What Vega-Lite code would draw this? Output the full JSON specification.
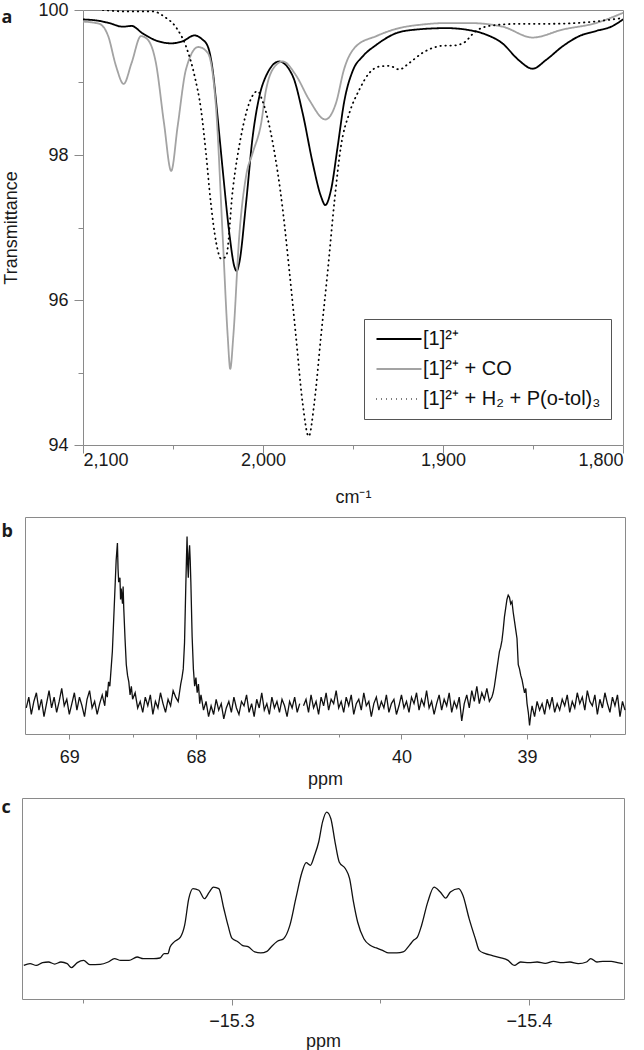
{
"$schema": "https://vega.github.io/schema/vega-lite/v6.json",
"padding": {"left": 0, "top": 0, "right": 0, "bottom": 0},
"background": "white",
"config": {
 "view": {"stroke": "#8a8a8a", "strokeWidth": 1},
 "axis": {"labelFont": "Liberation Sans", "titleFont": "Liberation Sans", "labelFontSize": 18, "titleFontSize": 18, "labelColor": "#1a1a1a", "titleColor": "#1a1a1a", "titleFontWeight": "normal", "domain": false, "tickColor": "#8a8a8a", "grid": false},
 "legend": {"orient": "none", "legendX": 342, "legendY": 309, "strokeColor": "#555", "fillColor": "#ffffff", "padding": 10, "symbolType": "M-3,0H3", "symbolSize": 225, "symbolOffset": 15, "symbolStrokeWidth": 1.8, "labelFont": "Liberation Sans", "labelFontSize": 20, "labelColor": "#111", "labelOffset": 14, "labelLimit": 400, "rowPadding": 10}
},
"datasets": {
 "ir": [
  {"s":"A","w":2100,"t":99.87},{"s":"A","w":2091,"t":99.85},{"s":"A","w":2085.5,"t":99.82},{"s":"A","w":2078,"t":99.77},{"s":"A","w":2073,"t":99.78},{"s":"A","w":2067,"t":99.68},{"s":"A","w":2059.5,"t":99.58},{"s":"A","w":2051,"t":99.54},{"s":"A","w":2044.6,"t":99.57},{"s":"A","w":2038,"t":99.65},{"s":"A","w":2034,"t":99.6},{"s":"A","w":2030.7,"t":99.5},{"s":"A","w":2028,"t":99.18},{"s":"A","w":2026,"t":98.72},{"s":"A","w":2022.4,"t":97.8},{"s":"A","w":2018.7,"t":96.92},{"s":"A","w":2016,"t":96.47},{"s":"A","w":2014.6,"t":96.4},{"s":"A","w":2013.2,"t":96.51},{"s":"A","w":2009.4,"t":97.34},{"s":"A","w":2005.7,"t":98.26},{"s":"A","w":2002,"t":98.81},{"s":"A","w":1998.3,"t":99.09},{"s":"A","w":1991,"t":99.29},{"s":"A","w":1983.5,"t":99.09},{"s":"A","w":1978,"t":98.58},{"s":"A","w":1972.4,"t":97.89},{"s":"A","w":1967.8,"t":97.43},{"s":"A","w":1965.4,"t":97.31},{"s":"A","w":1962.2,"t":97.52},{"s":"A","w":1958.5,"t":98.12},{"s":"A","w":1955,"t":98.72},{"s":"A","w":1950,"t":99.17},{"s":"A","w":1944.6,"t":99.36},{"s":"A","w":1937,"t":99.52},{"s":"A","w":1926,"t":99.68},{"s":"A","w":1915,"t":99.73},{"s":"A","w":1898,"t":99.75},{"s":"A","w":1885,"t":99.72},{"s":"A","w":1876,"t":99.66},{"s":"A","w":1867,"t":99.54},{"s":"A","w":1858,"t":99.31},{"s":"A","w":1850.2,"t":99.19},{"s":"A","w":1842.8,"t":99.31},{"s":"A","w":1833.5,"t":99.5},{"s":"A","w":1824.3,"t":99.64},{"s":"A","w":1815,"t":99.71},{"s":"A","w":1805.7,"t":99.78},{"s":"A","w":1800,"t":99.87},
  {"s":"B","w":2100,"t":99.84},{"s":"B","w":2091,"t":99.81},{"s":"B","w":2086,"t":99.64},{"s":"B","w":2081.7,"t":99.23},{"s":"B","w":2077.4,"t":98.98},{"s":"B","w":2073,"t":99.27},{"s":"B","w":2067.8,"t":99.64},{"s":"B","w":2064,"t":99.59},{"s":"B","w":2059.5,"t":99.27},{"s":"B","w":2055,"t":98.44},{"s":"B","w":2051,"t":97.78},{"s":"B","w":2047.4,"t":98.4},{"s":"B","w":2042.8,"t":99.18},{"s":"B","w":2036,"t":99.49},{"s":"B","w":2030.7,"t":99.41},{"s":"B","w":2026,"t":98.62},{"s":"B","w":2022.4,"t":96.88},{"s":"B","w":2019.6,"t":95.5},{"s":"B","w":2018.2,"t":95.05},{"s":"B","w":2016.5,"t":95.5},{"s":"B","w":2013.2,"t":96.88},{"s":"B","w":2009.4,"t":97.71},{"s":"B","w":2005.7,"t":98.03},{"s":"B","w":2001,"t":98.44},{"s":"B","w":1998.3,"t":98.9},{"s":"B","w":1992.8,"t":99.24},{"s":"B","w":1989,"t":99.29},{"s":"B","w":1981.7,"t":99.1},{"s":"B","w":1974.3,"t":98.76},{"s":"B","w":1965.4,"t":98.49},{"s":"B","w":1959.4,"t":98.72},{"s":"B","w":1955,"t":99.18},{"s":"B","w":1948.3,"t":99.5},{"s":"B","w":1937,"t":99.64},{"s":"B","w":1926,"t":99.74},{"s":"B","w":1911.3,"t":99.8},{"s":"B","w":1898.3,"t":99.82},{"s":"B","w":1885.4,"t":99.82},{"s":"B","w":1866.9,"t":99.77},{"s":"B","w":1850.2,"t":99.62},{"s":"B","w":1833.5,"t":99.73},{"s":"B","w":1815,"t":99.82},{"s":"B","w":1800,"t":99.96},
  {"s":"C","w":2089,"t":100.0},{"s":"C","w":2076,"t":99.98},{"s":"C","w":2061,"t":99.98},{"s":"C","w":2055,"t":99.91},{"s":"C","w":2048,"t":99.75},{"s":"C","w":2042.8,"t":99.5},{"s":"C","w":2038,"t":99.09},{"s":"C","w":2034.4,"t":98.62},{"s":"C","w":2031.7,"t":98.03},{"s":"C","w":2029,"t":97.34},{"s":"C","w":2026,"t":96.79},{"s":"C","w":2023.3,"t":96.57},{"s":"C","w":2020.5,"t":96.6},{"s":"C","w":2016.8,"t":97.52},{"s":"C","w":2012.2,"t":98.26},{"s":"C","w":2007.6,"t":98.72},{"s":"C","w":2003,"t":98.88},{"s":"C","w":2000.2,"t":98.74},{"s":"C","w":1994.6,"t":98.17},{"s":"C","w":1989,"t":97.24},{"s":"C","w":1985.4,"t":96.41},{"s":"C","w":1981.7,"t":95.5},{"s":"C","w":1978,"t":94.58},{"s":"C","w":1974.6,"t":94.12},{"s":"C","w":1971.5,"t":94.58},{"s":"C","w":1967.8,"t":95.5},{"s":"C","w":1964,"t":96.41},{"s":"C","w":1960.4,"t":97.34},{"s":"C","w":1956.7,"t":98.12},{"s":"C","w":1952,"t":98.58},{"s":"C","w":1946.5,"t":98.9},{"s":"C","w":1941,"t":99.13},{"s":"C","w":1935.4,"t":99.22},{"s":"C","w":1929.8,"t":99.23},{"s":"C","w":1924.3,"t":99.18},{"s":"C","w":1918.7,"t":99.27},{"s":"C","w":1911.3,"t":99.41},{"s":"C","w":1898.3,"t":99.51},{"s":"C","w":1894.6,"t":99.51},{"s":"C","w":1889,"t":99.54},{"s":"C","w":1881.7,"t":99.71},{"s":"C","w":1874.3,"t":99.78},{"s":"C","w":1857.6,"t":99.81},{"s":"C","w":1839,"t":99.81},{"s":"C","w":1820.5,"t":99.83},{"s":"C","w":1800,"t":99.89}
 ],
 "p31": [
  {"g":"L","p":69.34,"v":12},{"g":"L","p":69.32,"v":17},{"g":"L","p":69.30,"v":9},{"g":"L","p":69.28,"v":15},{"g":"L","p":69.26,"v":19},{"g":"L","p":69.24,"v":11},{"g":"L","p":69.22,"v":16},{"g":"L","p":69.20,"v":8},{"g":"L","p":69.18,"v":14},{"g":"L","p":69.16,"v":20},{"g":"L","p":69.14,"v":12},{"g":"L","p":69.12,"v":17},{"g":"L","p":69.10,"v":10},{"g":"L","p":69.08,"v":15},{"g":"L","p":69.06,"v":21},{"g":"L","p":69.04,"v":13},{"g":"L","p":69.02,"v":16},{"g":"L","p":69.00,"v":9},{"g":"L","p":68.98,"v":14},{"g":"L","p":68.96,"v":19},{"g":"L","p":68.94,"v":11},{"g":"L","p":68.92,"v":17},{"g":"L","p":68.90,"v":13},{"g":"L","p":68.88,"v":8},{"g":"L","p":68.86,"v":16},{"g":"L","p":68.84,"v":20},{"g":"L","p":68.82,"v":12},{"g":"L","p":68.80,"v":15},{"g":"L","p":68.78,"v":9},{"g":"L","p":68.76,"v":14},{"g":"L","p":68.74,"v":18},{"g":"L","p":68.72,"v":13},{"g":"L","p":68.71,"v":20},{"g":"L","p":68.70,"v":17},{"g":"L","p":68.69,"v":24},{"g":"L","p":68.68,"v":22},{"g":"L","p":68.67,"v":30},{"g":"L","p":68.66,"v":38},{"g":"L","p":68.65,"v":52},{"g":"L","p":68.64,"v":66},{"g":"L","p":68.63,"v":80},{"g":"L","p":68.62,"v":88},{"g":"L","p":68.615,"v":76},{"g":"L","p":68.61,"v":70},{"g":"L","p":68.60,"v":72},{"g":"L","p":68.595,"v":62},{"g":"L","p":68.59,"v":67},{"g":"L","p":68.58,"v":60},{"g":"L","p":68.575,"v":68},{"g":"L","p":68.57,"v":58},{"g":"L","p":68.56,"v":44},{"g":"L","p":68.55,"v":32},{"g":"L","p":68.54,"v":27},{"g":"L","p":68.53,"v":24},{"g":"L","p":68.52,"v":18},{"g":"L","p":68.51,"v":22},{"g":"L","p":68.50,"v":16},{"g":"L","p":68.48,"v":19},{"g":"L","p":68.46,"v":12},{"g":"L","p":68.44,"v":15},{"g":"L","p":68.42,"v":10},{"g":"L","p":68.40,"v":17},{"g":"L","p":68.38,"v":13},{"g":"L","p":68.36,"v":18},{"g":"L","p":68.34,"v":9},{"g":"L","p":68.32,"v":15},{"g":"L","p":68.30,"v":12},{"g":"L","p":68.28,"v":19},{"g":"L","p":68.26,"v":14},{"g":"L","p":68.24,"v":10},{"g":"L","p":68.22,"v":16},{"g":"L","p":68.20,"v":13},{"g":"L","p":68.18,"v":20},{"g":"L","p":68.16,"v":17},{"g":"L","p":68.14,"v":15},{"g":"L","p":68.13,"v":19},{"g":"L","p":68.12,"v":23},{"g":"L","p":68.11,"v":26},{"g":"L","p":68.10,"v":30},{"g":"L","p":68.09,"v":42},{"g":"L","p":68.08,"v":68},{"g":"L","p":68.075,"v":80},{"g":"L","p":68.07,"v":91},{"g":"L","p":68.065,"v":78},{"g":"L","p":68.06,"v":72},{"g":"L","p":68.055,"v":83},{"g":"L","p":68.05,"v":87},{"g":"L","p":68.045,"v":80},{"g":"L","p":68.04,"v":70},{"g":"L","p":68.03,"v":45},{"g":"L","p":68.02,"v":30},{"g":"L","p":68.01,"v":22},{"g":"L","p":68.00,"v":26},{"g":"L","p":67.99,"v":19},{"g":"L","p":67.98,"v":23},{"g":"L","p":67.97,"v":14},{"g":"L","p":67.96,"v":18},{"g":"L","p":67.94,"v":11},{"g":"L","p":67.92,"v":15},{"g":"L","p":67.90,"v":8},{"g":"L","p":67.88,"v":13},{"g":"L","p":67.86,"v":9},{"g":"L","p":67.84,"v":16},{"g":"L","p":67.82,"v":11},{"g":"L","p":67.80,"v":14},{"g":"L","p":67.78,"v":7},{"g":"L","p":67.76,"v":12},{"g":"L","p":67.74,"v":15},{"g":"L","p":67.72,"v":10},{"g":"L","p":67.70,"v":17},{"g":"L","p":67.68,"v":12},{"g":"L","p":67.66,"v":9},{"g":"L","p":67.64,"v":15},{"g":"L","p":67.62,"v":13},{"g":"L","p":67.60,"v":18},{"g":"L","p":67.58,"v":10},{"g":"L","p":67.56,"v":14},{"g":"L","p":67.54,"v":8},{"g":"L","p":67.52,"v":16},{"g":"L","p":67.50,"v":12},{"g":"L","p":67.48,"v":19},{"g":"L","p":67.46,"v":11},{"g":"L","p":67.44,"v":14},{"g":"L","p":67.42,"v":9},{"g":"L","p":67.40,"v":17},{"g":"L","p":67.38,"v":12},{"g":"L","p":67.36,"v":15},{"g":"L","p":67.34,"v":10},{"g":"L","p":67.32,"v":16},{"g":"L","p":67.30,"v":13},{"g":"L","p":67.28,"v":8},{"g":"L","p":67.26,"v":15},{"g":"L","p":67.24,"v":12},{"g":"L","p":67.22,"v":17},{"g":"L","p":67.20,"v":10},{"g":"L","p":67.18,"v":14},
  {"g":"R","p":40.78,"v":13},{"g":"R","p":40.76,"v":16},{"g":"R","p":40.74,"v":10},{"g":"R","p":40.72,"v":18},{"g":"R","p":40.70,"v":12},{"g":"R","p":40.68,"v":15},{"g":"R","p":40.66,"v":9},{"g":"R","p":40.64,"v":17},{"g":"R","p":40.62,"v":13},{"g":"R","p":40.60,"v":19},{"g":"R","p":40.58,"v":11},{"g":"R","p":40.56,"v":16},{"g":"R","p":40.54,"v":14},{"g":"R","p":40.52,"v":20},{"g":"R","p":40.50,"v":12},{"g":"R","p":40.48,"v":15},{"g":"R","p":40.46,"v":10},{"g":"R","p":40.44,"v":17},{"g":"R","p":40.42,"v":13},{"g":"R","p":40.40,"v":18},{"g":"R","p":40.38,"v":9},{"g":"R","p":40.36,"v":14},{"g":"R","p":40.34,"v":16},{"g":"R","p":40.32,"v":11},{"g":"R","p":40.30,"v":19},{"g":"R","p":40.28,"v":13},{"g":"R","p":40.26,"v":15},{"g":"R","p":40.24,"v":8},{"g":"R","p":40.22,"v":14},{"g":"R","p":40.20,"v":17},{"g":"R","p":40.18,"v":11},{"g":"R","p":40.16,"v":15},{"g":"R","p":40.14,"v":12},{"g":"R","p":40.12,"v":18},{"g":"R","p":40.10,"v":10},{"g":"R","p":40.08,"v":14},{"g":"R","p":40.06,"v":16},{"g":"R","p":40.04,"v":9},{"g":"R","p":40.02,"v":13},{"g":"R","p":40.00,"v":18},{"g":"R","p":39.98,"v":12},{"g":"R","p":39.96,"v":15},{"g":"R","p":39.94,"v":10},{"g":"R","p":39.92,"v":17},{"g":"R","p":39.90,"v":14},{"g":"R","p":39.88,"v":19},{"g":"R","p":39.86,"v":11},{"g":"R","p":39.84,"v":16},{"g":"R","p":39.82,"v":13},{"g":"R","p":39.80,"v":20},{"g":"R","p":39.78,"v":12},{"g":"R","p":39.76,"v":15},{"g":"R","p":39.74,"v":9},{"g":"R","p":39.72,"v":14},{"g":"R","p":39.70,"v":18},{"g":"R","p":39.68,"v":11},{"g":"R","p":39.66,"v":16},{"g":"R","p":39.64,"v":13},{"g":"R","p":39.62,"v":19},{"g":"R","p":39.60,"v":10},{"g":"R","p":39.58,"v":15},{"g":"R","p":39.56,"v":12},{"g":"R","p":39.54,"v":17},{"g":"R","p":39.52,"v":6},{"g":"R","p":39.50,"v":14},{"g":"R","p":39.48,"v":18},{"g":"R","p":39.46,"v":12},{"g":"R","p":39.44,"v":20},{"g":"R","p":39.42,"v":15},{"g":"R","p":39.40,"v":22},{"g":"R","p":39.38,"v":14},{"g":"R","p":39.36,"v":19},{"g":"R","p":39.34,"v":16},{"g":"R","p":39.32,"v":21},{"g":"R","p":39.30,"v":15},{"g":"R","p":39.28,"v":17},{"g":"R","p":39.27,"v":19},{"g":"R","p":39.26,"v":22},{"g":"R","p":39.25,"v":26},{"g":"R","p":39.24,"v":30},{"g":"R","p":39.23,"v":34},{"g":"R","p":39.22,"v":38},{"g":"R","p":39.21,"v":40},{"g":"R","p":39.20,"v":43},{"g":"R","p":39.19,"v":48},{"g":"R","p":39.18,"v":54},{"g":"R","p":39.17,"v":58},{"g":"R","p":39.16,"v":62},{"g":"R","p":39.15,"v":64},{"g":"R","p":39.14,"v":63},{"g":"R","p":39.13,"v":60},{"g":"R","p":39.12,"v":61},{"g":"R","p":39.11,"v":56},{"g":"R","p":39.10,"v":52},{"g":"R","p":39.09,"v":48},{"g":"R","p":39.08,"v":44},{"g":"R","p":39.07,"v":32},{"g":"R","p":39.06,"v":30},{"g":"R","p":39.05,"v":27},{"g":"R","p":39.04,"v":25},{"g":"R","p":39.03,"v":22},{"g":"R","p":39.02,"v":19},{"g":"R","p":39.01,"v":21},{"g":"R","p":39.00,"v":14},{"g":"R","p":38.99,"v":10},{"g":"R","p":38.98,"v":4},{"g":"R","p":38.97,"v":9},{"g":"R","p":38.96,"v":13},{"g":"R","p":38.94,"v":8},{"g":"R","p":38.92,"v":15},{"g":"R","p":38.90,"v":11},{"g":"R","p":38.88,"v":14},{"g":"R","p":38.86,"v":9},{"g":"R","p":38.84,"v":16},{"g":"R","p":38.82,"v":12},{"g":"R","p":38.80,"v":17},{"g":"R","p":38.78,"v":10},{"g":"R","p":38.76,"v":14},{"g":"R","p":38.74,"v":11},{"g":"R","p":38.72,"v":16},{"g":"R","p":38.70,"v":13},{"g":"R","p":38.68,"v":18},{"g":"R","p":38.66,"v":10},{"g":"R","p":38.64,"v":15},{"g":"R","p":38.62,"v":12},{"g":"R","p":38.60,"v":19},{"g":"R","p":38.58,"v":14},{"g":"R","p":38.56,"v":17},{"g":"R","p":38.54,"v":11},{"g":"R","p":38.52,"v":20},{"g":"R","p":38.50,"v":15},{"g":"R","p":38.48,"v":13},{"g":"R","p":38.46,"v":18},{"g":"R","p":38.44,"v":9},{"g":"R","p":38.42,"v":16},{"g":"R","p":38.40,"v":12},{"g":"R","p":38.38,"v":19},{"g":"R","p":38.36,"v":14},{"g":"R","p":38.34,"v":10},{"g":"R","p":38.32,"v":17},{"g":"R","p":38.30,"v":13},{"g":"R","p":38.28,"v":18},{"g":"R","p":38.26,"v":8},{"g":"R","p":38.24,"v":15},{"g":"R","p":38.22,"v":11}
 ],
 "h1": [
  {"p":-15.2301,"v":16.7},{"p":-15.2322,"v":17.6},{"p":-15.2343,"v":16.7},{"p":-15.2364,"v":18.1},{"p":-15.2384,"v":18.4},{"p":-15.2405,"v":17.4},{"p":-15.2426,"v":18.4},{"p":-15.2447,"v":17.6},{"p":-15.2461,"v":15.6},{"p":-15.2481,"v":18.1},{"p":-15.2502,"v":19.2},{"p":-15.2523,"v":17.1},{"p":-15.2558,"v":17.2},{"p":-15.2585,"v":18.4},{"p":-15.2606,"v":20.1},{"p":-15.2627,"v":19.2},{"p":-15.2655,"v":19.2},{"p":-15.2682,"v":20.9},{"p":-15.2703,"v":20.1},{"p":-15.2738,"v":20.1},{"p":-15.2759,"v":20.4},{"p":-15.2773,"v":22.6},{"p":-15.2786,"v":22.6},{"p":-15.2793,"v":25.9},{"p":-15.2807,"v":28.4},{"p":-15.2828,"v":30.8},{"p":-15.2842,"v":36.6},{"p":-15.2856,"v":49.9},{"p":-15.287,"v":54.9},{"p":-15.289,"v":54.1},{"p":-15.2909,"v":49.9},{"p":-15.2925,"v":53.2},{"p":-15.2939,"v":55.7},{"p":-15.2957,"v":54.9},{"p":-15.2974,"v":44.9},{"p":-15.2988,"v":36.6},{"p":-15.3001,"v":30.3},{"p":-15.3022,"v":28.4},{"p":-15.3036,"v":26.7},{"p":-15.3057,"v":25.9},{"p":-15.3078,"v":23.4},{"p":-15.3098,"v":22.9},{"p":-15.3119,"v":23.7},{"p":-15.3133,"v":25.9},{"p":-15.3154,"v":28.7},{"p":-15.3175,"v":30.0},{"p":-15.3196,"v":36.6},{"p":-15.3216,"v":49.9},{"p":-15.3237,"v":63.2},{"p":-15.3251,"v":67.8},{"p":-15.3265,"v":66.5},{"p":-15.3279,"v":71.5},{"p":-15.3293,"v":78.1},{"p":-15.3306,"v":88.1},{"p":-15.332,"v":93.0},{"p":-15.3334,"v":89.7},{"p":-15.3348,"v":78.1},{"p":-15.3362,"v":68.2},{"p":-15.3383,"v":64.8},{"p":-15.3397,"v":59.9},{"p":-15.341,"v":48.3},{"p":-15.3424,"v":38.3},{"p":-15.3445,"v":30.0},{"p":-15.3466,"v":26.7},{"p":-15.3487,"v":25.4},{"p":-15.3508,"v":24.2},{"p":-15.3528,"v":22.9},{"p":-15.3556,"v":22.9},{"p":-15.3577,"v":23.4},{"p":-15.3598,"v":26.7},{"p":-15.3612,"v":29.2},{"p":-15.3625,"v":30.8},{"p":-15.3639,"v":36.6},{"p":-15.366,"v":48.3},{"p":-15.3681,"v":55.7},{"p":-15.3702,"v":53.2},{"p":-15.372,"v":50.2},{"p":-15.3736,"v":53.2},{"p":-15.3764,"v":54.9},{"p":-15.3778,"v":51.6},{"p":-15.3799,"v":40.0},{"p":-15.382,"v":30.0},{"p":-15.3833,"v":24.2},{"p":-15.3854,"v":22.6},{"p":-15.3875,"v":21.7},{"p":-15.3903,"v":20.6},{"p":-15.393,"v":19.2},{"p":-15.3951,"v":16.7},{"p":-15.3972,"v":18.4},{"p":-15.4,"v":18.1},{"p":-15.4028,"v":18.4},{"p":-15.4055,"v":17.7},{"p":-15.4083,"v":18.7},{"p":-15.4111,"v":18.1},{"p":-15.4138,"v":18.4},{"p":-15.4166,"v":17.6},{"p":-15.4194,"v":18.4},{"p":-15.4208,"v":20.1},{"p":-15.4229,"v":18.4},{"p":-15.4249,"v":18.7},{"p":-15.4277,"v":18.7},{"p":-15.4298,"v":18.1},{"p":-15.4316,"v":17.6}
 ]
},
"spacing": 9,
"vconcat": [
 {
  "bounds": "flush",
  "spacing": 0,
  "hconcat": [
   {"width": 61, "height": 1, "view": {"stroke": null}, "data": {"values": []}, "mark": {"type": "rule", "opacity": 0}, "encoding": {}},
   {
    "width": 540, "height": 435,
    "data": {"name": "ir"},
    "resolve": {"axis": {"x": "independent", "y": "independent"}},
    "layer": [
     {
      "mark": {"type": "line", "interpolate": "monotone", "clip": true, "strokeWidth": 1.8, "strokeCap": "round"},
      "encoding": {
       "x": {"field": "w", "type": "quantitative", "scale": {"domain": [2100, 1800], "nice": false, "zero": false},
        "axis": {"values": [2100, 2050, 2000, 1950, 1900, 1850, 1800], "labelExpr": "datum.value % 100 === 0 ? format(datum.value, ',') : ''", "tickSize": {"condition": {"test": "datum.value % 100 === 0", "value": 8}, "value": 4}, "labelPadding": -2, "title": "cm⁻¹", "titlePadding": 19}},
       "y": {"field": "t", "type": "quantitative", "scale": {"domain": [94, 100], "nice": false, "zero": false},
        "axis": {"values": [94, 95, 96, 97, 98, 99, 100], "labelExpr": "datum.value % 2 === 0 ? format(datum.value, 'd') : ''", "tickSize": {"condition": {"test": "datum.value % 2 === 0", "value": 9}, "value": 5}, "labelPadding": 6, "title": "Transmittance", "titlePadding": 17}},
       "color": {"field": "s", "type": "nominal", "title": null, "scale": {"domain": ["A", "B", "C"], "range": ["#000000", "#a3a3a3", "#000000"]},
        "legend": {"labelExpr": "datum.value === 'A' ? '[1]²⁺' : datum.value === 'B' ? '[1]²⁺ + CO' : '[1]²⁺ + H₂ + P(o-tol)₃'"}},
       "strokeDash": {"field": "s", "type": "nominal", "title": null, "scale": {"domain": ["A", "B", "C"], "range": [[1, 0], [1, 0], [0.5, 4.5]]},
        "legend": {"labelExpr": "datum.value === 'A' ? '[1]²⁺' : datum.value === 'B' ? '[1]²⁺ + CO' : '[1]²⁺ + H₂ + P(o-tol)₃'"}}
      }
     },
     {
      "mark": {"type": "line", "opacity": 0},
      "encoding": {
       "x": {"field": "w", "type": "quantitative",
        "axis": {"orient": "top", "title": "a", "labels": false, "ticks": false, "domain": false, "titleAngle": 0, "titleAlign": "left", "titleBaseline": "alphabetic", "titleX": -82, "titleY": 12, "titleFont": "Open Sans", "titleFontWeight": "bold", "titleFontSize": 18}},
       "y": {"field": "t", "type": "quantitative", "axis": null},
       "detail": {"field": "s", "type": "nominal"}
      }
     }
    ]
   }
  ]
 },
 {
  "spacing": 8,
  "vconcat": [
   {
    "bounds": "flush",
    "spacing": 0,
    "hconcat": [
     {"width": 3, "height": 1, "view": {"stroke": null}, "data": {"values": []}, "mark": {"type": "rule", "opacity": 0}, "encoding": {}},
     {
      "width": 600, "height": 217,
      "data": {"name": "p31"},
      "mark": {"type": "line", "color": "#111111", "strokeWidth": 1.3},
      "encoding": {
       "x": {"field": "p", "type": "quantitative", "scale": {"domain": [69.35, 67.17, 40.8, 38.22], "range": [0, 276, 276, 600], "nice": false, "zero": false},
        "axis": {"values": [69, 68.5, 68, 67.5, 40.5, 40, 39.5, 39, 38.5], "labelExpr": "datum.value % 1 === 0 ? datum.label : ''", "tickSize": {"condition": {"test": "datum.value % 1 === 0", "value": 5}, "value": 3}, "labelPadding": 9, "title": "ppm", "titlePadding": 4}},
       "y": {"field": "v", "type": "quantitative", "scale": {"domain": [0, 100], "nice": false, "zero": false},
        "axis": {"title": "b", "labels": false, "ticks": false, "domain": false, "titleAngle": 0, "titleAlign": "left", "titleBaseline": "alphabetic", "titleX": -24, "titleY": 19, "titleFont": "Open Sans", "titleFontWeight": "bold", "titleFontSize": 18}},
       "detail": {"field": "g", "type": "nominal"}
      }
     }
    ]
   },
   {
    "width": 602, "height": 201,
    "data": {"name": "h1"},
    "mark": {"type": "line", "color": "#111111", "strokeWidth": 1.3, "interpolate": "monotone"},
    "encoding": {
     "x": {"field": "p", "type": "quantitative", "scale": {"domain": [-15.2295, -15.432], "nice": false, "zero": false},
      "axis": {"values": [-15.25, -15.3, -15.35, -15.4], "labelExpr": "abs(datum.value * 10 - round(datum.value * 10)) < 0.001 ? '−' + format(abs(datum.value), '.1f') : ''", "tickSize": {"condition": {"test": "abs(datum.value * 10 - round(datum.value * 10)) < 0.001", "value": 6}, "value": 4}, "labelPadding": 7, "title": "ppm", "titlePadding": 2}},
     "y": {"field": "v", "type": "quantitative", "scale": {"domain": [0, 100], "nice": false, "zero": false},
      "axis": {"title": "c", "labels": false, "ticks": false, "domain": false, "titleAngle": 0, "titleAlign": "left", "titleBaseline": "alphabetic", "titleX": -21, "titleY": 14, "titleFont": "Open Sans", "titleFontWeight": "bold", "titleFontSize": 18}}
    }
   }
  ]
 }
]
}
